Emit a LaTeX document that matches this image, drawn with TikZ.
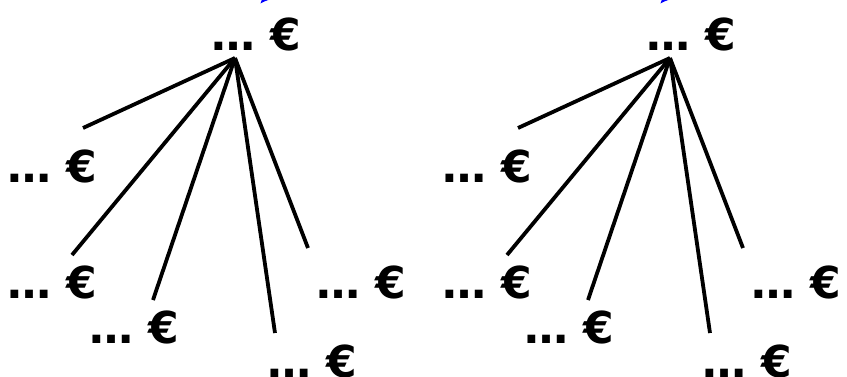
\documentclass[tikz,border=0pt]{standalone}
\usepackage{fontspec}
\setmainfont{DejaVu Sans}
\usetikzlibrary{arrows.meta}

\begin{document}
\begin{tikzpicture}[x=1pt,y=-1pt, every node/.style={font=\fontsize{44}{50}\selectfont\bfseries,inner sep=0pt,anchor=base}, price/.style={}, edge/.style={line width=3.8pt}, up/.style={blue,line width=3.5pt,-{Latex[length=10pt,width=9pt]}}]
\useasboundingbox (0,0) rectangle (847,376);
\foreach \t/\dx/\tip in {a/0/260,b/435/225}{
\begin{scope}[xshift=\dx pt]
\node[price] (top\t) at (256.5,50) {… €};
\node[price] (one\t) at (52.5,182) {… €};
\node[price] (two\t) at (52.5,298) {… €};
\node[price] (three\t) at (134,343) {… €};
\node[price] (four\t) at (312.5,377) {… €};
\node[price] (five\t) at (361,298) {… €};
\coordinate (apex\t) at (235,58);
\coordinate (e1\t) at (83,128);
\coordinate (e2\t) at (72,255);
\coordinate (e3\t) at (153,300);
\coordinate (e4\t) at (275,333);
\coordinate (e5\t) at (308,248);
\coordinate (tip\t) at (\tip,4);
\coordinate (from\t) at (\tip+40,-40);
\draw[edge] (apex\t)--(e1\t);
\draw[edge] (apex\t)--(e2\t);
\draw[edge] (apex\t)--(e3\t);
\draw[edge] (apex\t)--(e4\t);
\draw[edge] (apex\t)--(e5\t);
\draw[up] (from\t)--(tip\t);
\end{scope}
}
\end{tikzpicture}
\end{document}
